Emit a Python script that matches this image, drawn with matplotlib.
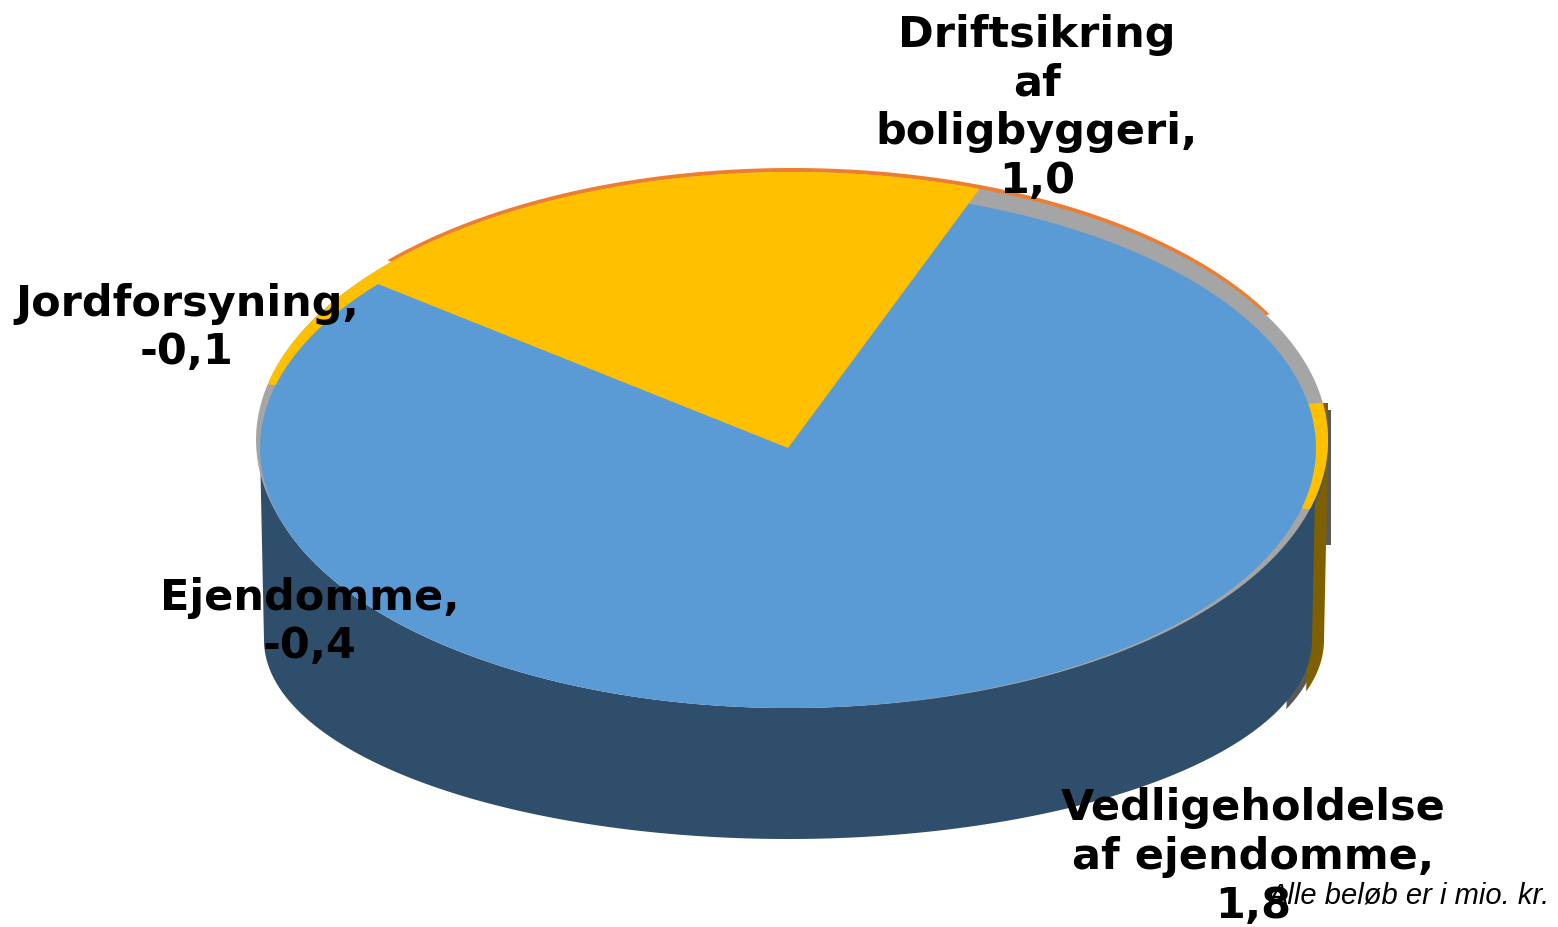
import numpy as np
import matplotlib
matplotlib.use("Agg")
import matplotlib.pyplot as plt
from matplotlib.patches import Polygon

# data
categories = ["Vedligeholdelse\naf ejendomme", "Driftsikring\naf\nboligbyggeri",
              "Ejendomme", "Jordforsyning"]
values = [1.8, 1.0, -0.4, -0.1]
# how the top face is split in the picture (blue part, yellow part), in percent
top_share = [80.3, 19.7]
start_angle = 70.0
note = "Alle beløb er i mio. kr."

BLUE = "#5B9BD5"
BLUE_SIDE = "#2E4E6B"
YELLOW = "#FFC000"
YELLOW_SIDE = "#7F6000"
GREY = "#A5A5A5"
GREY_SIDE = "#595959"
ORANGE = "#ED7D31"

# geometry of the 3d pie in pixels
CX, CY, A, B = 788, 448, 528, 260      # blue top face
OX, OY, OA, OB = 792, 440, 536, 268    # rim behind it
BY, BA, BB = 640, 524, 199             # bottom outline


def arc(cx, cy, a, b, t0, t1, n=300):
    t = np.radians(np.linspace(t0, t1, n))
    return np.column_stack([cx + a * np.cos(t), cy - b * np.sin(t)])


def wedge(cx, cy, a, b, t0, t1):
    return np.vstack([[cx, cy], arc(cx, cy, a, b, t0, t1)])


def body(dx=0, dy=0, t0=180, t1=360):
    top = arc(CX + dx, CY + dy, A, B, t0, t1)
    bot = arc(CX + dx, BY + dy, BA, BB, t1, t0)
    return np.vstack([top, bot])


def ray_to_rim(t0, t1, n=300):
    # points where rays from the pie centre hit the rim ellipse
    t = np.radians(np.linspace(t0, t1, n))
    dx, dy = A * np.cos(t), -B * np.sin(t)
    px, py = CX - OX, CY - OY
    qa = (dx / OA) ** 2 + (dy / OB) ** 2
    qb = 2 * (px * dx / OA ** 2 + py * dy / OB ** 2)
    qc = (px / OA) ** 2 + (py / OB) ** 2 - 1
    s = (-qb + np.sqrt(qb ** 2 - 4 * qa * qc)) / (2 * qa)
    return np.column_stack([CX + s * dx, CY + s * dy])


def fmt(v):
    return "{:.1f}".format(v).replace(".", ",")


fig = plt.figure(figsize=(15.58, 9.27), dpi=100)
ax = fig.add_axes([0, 0, 1, 1])
ax.set_xlim(0, 1558)
ax.set_ylim(927, 0)
ax.axis("off")


def fill(pts, color, z):
    ax.add_patch(Polygon(pts, closed=True, facecolor=color, edgecolor="none",
                         linewidth=0, zorder=z))


# sides
rim_top = OY - OB * np.sin(np.radians(8))
fill([(CX + A, OY - 30), (OX + OA + 3, OY - 30), (OX + OA + 3, OY + 105),
      (CX + A, OY + 105)], GREY_SIDE, 1)
fill(body(6, 1, 340, 360), GREY_SIDE, 1)
fill(body(12, 0, 345, 360), YELLOW_SIDE, 2)
fill([(CX + A - 8, rim_top), (OX + OA, rim_top), (OX + OA, CY + 20),
      (CX + A - 8, CY + 20)], YELLOW_SIDE, 2)
fill(body(), BLUE_SIDE, 3)

# rim slivers behind the top face
fill(wedge(OX, OY - 4, OA, OB, 27, 139), ORANGE, 4)
fill(arc(OX, OY, OA, OB, 0, 360), GREY, 5)
fill(wedge(OX, OY, OA, OB, start_angle, 168), YELLOW, 6)
fill(wedge(OX, OY, OA, OB, -15, 8), YELLOW, 6)

# top face
fill(arc(CX, CY, A, B, 0, 360), BLUE, 7)
t_end = start_angle + top_share[1] * 3.6
fill(np.vstack([[CX, CY], ray_to_rim(start_angle, t_end)]), YELLOW, 8)

# data labels
label_xy = [(1253, 857), (1037, 108), (310, 622), (187, 328)]
for name, v, (x, y) in zip(categories, values, label_xy):
    ax.text(x, y, "{},\n{}".format(name, fmt(v)), ha="center", va="center",
            multialignment="center", fontsize=31, fontweight="bold",
            family="DejaVu Sans", color="black", zorder=10)

ax.text(1550, 904, note, ha="right", va="baseline", fontsize=21,
        style="italic", family="Liberation Sans", color="black", zorder=11)

fig.savefig("out.png", dpi=100)
